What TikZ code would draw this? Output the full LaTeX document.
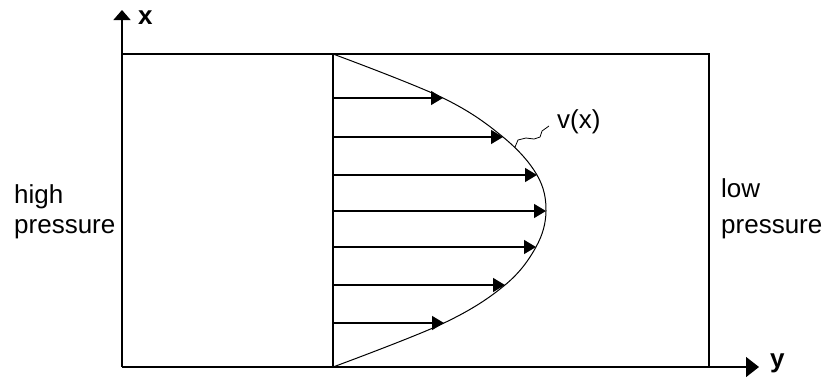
\documentclass[tikz,border=0pt]{standalone}
\usepackage{fontspec}
\setmainfont{Liberation Sans}
\usetikzlibrary{arrows.meta}
\begin{document}
\begin{tikzpicture}[x=1pt,y=-1pt,
  wall/.style={line width=1.4pt},
  flow/.style={line width=1.3pt,-{Triangle[length=12pt,width=14pt]}},
  axisx/.style={line width=1.4pt,-{Triangle[length=10pt,width=17pt]}},
  axisy/.style={line width=1.4pt,-{Triangle[length=13pt,width=20pt]}},
  lbl/.style={inner sep=0pt,anchor=base west,font=\fontsize{26}{30}\selectfont}]
\useasboundingbox (0,0) rectangle (825,381);
% frame
\coordinate (O) at (122,367);
\coordinate (TL) at (122,54);
\coordinate (TR) at (709,54);
\coordinate (BR) at (709,367);
\coordinate (XT) at (122,10);
\coordinate (YT) at (759,367);
\coordinate (MT) at (333,54);
\coordinate (MB) at (333,367);
\draw[wall] (TL) -- (TR) -- (BR);
\draw[axisx] (O) -- (XT);
\draw[axisy] (O) -- (YT);
\draw[wall] (MT) -- (MB);
% profile
\coordinate (p1) at (443,98);
\coordinate (p2) at (503,137);
\coordinate (p3) at (537,175);
\coordinate (p4) at (546,211);
\coordinate (p5) at (536,247);
\coordinate (p6) at (505,285);
\coordinate (p7) at (444,323);
\draw[line width=1pt] plot[smooth,tension=0.6] coordinates {(MT) (p1) (p2) (p3) (p4) (p5) (p6) (p7) (MB)};
\foreach \i in {1,...,7}{
  \coordinate (s\i) at (MT |- p\i);
  \draw[flow] (s\i) -- (p\i);
}
% leader
\coordinate (L0) at (515,147);
\coordinate (L1) at (549,126);
\draw[line width=0.8pt] (L0) -- (518,140) -- (526,138) -- (534,139) -- (540,137) -- (542,131) -- (L1);
% labels
\node[lbl,font=\fontsize{26}{30}\selectfont\bfseries] (xl) at (138,24) {x};
\node[lbl,font=\fontsize{26}{30}\selectfont\bfseries] (yl) at (770,367) {y};
\node[lbl] (vl) at (557,128) {v(x)};
\node[lbl] (h1) at (14,203) {high};
\node[lbl] (h2) at (14,233) {pressure};
\node[lbl] (l1) at (721,197) {low};
\node[lbl] (l2) at (721,233) {pressure};
\end{tikzpicture}
\end{document}
